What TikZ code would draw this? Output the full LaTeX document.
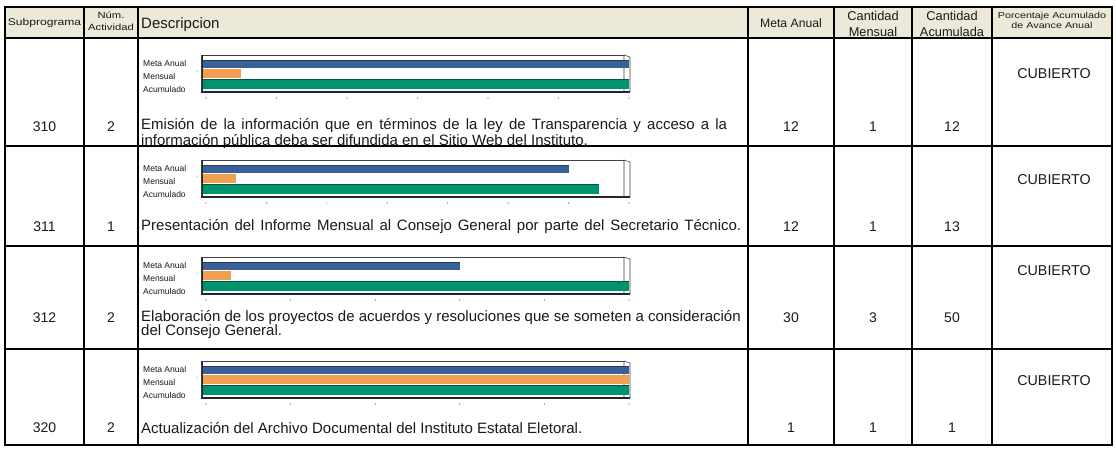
\documentclass[tikz,border=0pt]{standalone}
\usepackage{fontspec}
\setmainfont{Liberation Sans}
\newfontfamily\hdrwide[FakeStretch=1.25]{Liberation Sans}
\definecolor{hdr}{HTML}{ECE9D8}
\definecolor{barblue}{HTML}{3A6098}
\definecolor{barorange}{HTML}{F0A04E}
\definecolor{bargreen}{HTML}{00936F}
\definecolor{txt}{HTML}{1A1A1A}
\tikzset{
  grid/.style={line width=1.6pt, black},
  hdrtext/.style={inner sep=0pt, align=center, text=txt},
  desc/.style={anchor=west, align=left, inner sep=0pt, text=txt, font=\fontsize{15}{14}\selectfont},
  num/.style={inner sep=0pt, text=txt, font=\fontsize{14}{14}\selectfont},
  cub/.style={inner sep=0pt, text=txt, font=\fontsize{14.3}{14}\selectfont},
  lab/.style={anchor=west, inner sep=0pt, text=txt, font=\fontsize{8.5}{8.5}\selectfont},
  boxline/.style={line width=0.6pt, black!75},
}
% #1 top y, #2 blue end x, #3 orange end x, #4 green end x, #5 last tick index, #6 tick step, #7 name suffix
\newcommand{\minichart}[7]{%
  \fill[white] (201,#1) rectangle (624,#1+37);
  \draw[boxline] (201,#1) rectangle (624,#1+37);
  \draw[boxline, fill=white] (624,#1) -- (630,#1+2) -- (630,#1+37) -- (624,#1+37) -- cycle;
  \fill[barblue] (203,#1+5) rectangle (#2,#1+13);
  \draw[line width=0.5pt, barblue!60!black] (203,#1+5) -- (#2,#1+5);
  \fill[barorange] (203,#1+14) rectangle (#3,#1+23);
  \fill[bargreen] (203,#1+24) rectangle (#4,#1+34);
  \draw[line width=0.5pt, bargreen!60!black] (203,#1+24) -- (#4,#1+24);
  \draw[line width=1.8pt, black!85] (201,#1+37) -- (630,#1+37);
  \draw[line width=0.8pt, black!85] (202,#1) -- (202,#1+37);
  \foreach \k in {0,...,#5} \fill[black!70] ({206+\k*#6},#1+43) circle (0.6);
  \fill[black!70] (197,#1+16) circle (0.5);
  \node[lab] (ma#7) at (143,#1+8) {Meta Anual};
  \node[lab] (me#7) at (143,#1+21) {Mensual};
  \node[lab] (ac#7) at (143,#1+34) {Acumulado};
}
\begin{document}
\begin{tikzpicture}[x=1pt,y=-1pt]
\useasboundingbox (0,0) rectangle (1116,448);
\fill[white] (0,0) rectangle (1116,448);
% header
\fill[hdr] (5,7) rectangle (1112,38);
\node[hdrtext, font=\hdrwide\fontsize{9.7}{9}\selectfont] (hsub) at (44.5,22.5) {Subprograma};
\node[hdrtext, font=\hdrwide\fontsize{9}{12}\selectfont] (hnum) at (111,21) {Núm.\\Actividad};
\node[hdrtext, anchor=west, font=\fontsize{15}{15}\selectfont] (hdes) at (141,24.5) {Descripcion};
\node[hdrtext, font=\fontsize{12.2}{12}\selectfont] (hmeta) at (791,23) {Meta Anual};
\node[hdrtext, font=\fontsize{12.8}{16}\selectfont] (hmen) at (873,23.5) {Cantidad\\Mensual};
\node[hdrtext, font=\fontsize{12.8}{16}\selectfont] (hacu) at (952,23.5) {Cantidad\\Acumulada};
\node[hdrtext, font=\hdrwide\fontsize{8.6}{10}\selectfont] (hpor) at (1052,20) {Porcentaje Acumulado\\de Avance Anual};
% charts
\minichart{55}{629}{241}{629}{6}{70.5}{1}
\minichart{160}{568.6}{236}{599}{7}{60.43}{2}
\minichart{257}{460}{231}{629}{5}{84.6}{3}
\minichart{361}{629}{629}{629}{5}{84.6}{4}
% row 1
\node[num] (s1) at (44.5,127) {310};
\node[num] (a1) at (111,127) {2};
\node[desc] (d1) at (141,133.5) {\makebox[586pt][s]{Emisión de la información que en términos de la ley de Transparencia y acceso a la}\\información pública deba ser difundida en el Sitio Web del Instituto.};
\node[num] (m1) at (791,127) {12};
\node[num] (c1) at (873,127) {1};
\node[num] (q1) at (952,127) {12};
\node[cub] (p1) at (1054,74) {CUBIERTO};
% row 2
\node[num] (s2) at (44.5,227) {311};
\node[num] (a2) at (111,227) {1};
\node[desc] (d2) at (141,227) {\makebox[600pt][s]{Presentación del Informe Mensual al Consejo General por parte del Secretario Técnico.}};
\node[num] (m2) at (791,227) {12};
\node[num] (c2) at (873,227) {1};
\node[num] (q2) at (952,227) {13};
\node[cub] (p2) at (1054,180) {CUBIERTO};
% row 3
\node[num] (s3) at (44.5,318) {312};
\node[num] (a3) at (111,318) {2};
\node[desc] (d3) at (141,325) {Elaboración de los proyectos de acuerdos y resoluciones que se someten a consideración\\del Consejo General.};
\node[num] (m3) at (791,318) {30};
\node[num] (c3) at (873,318) {3};
\node[num] (q3) at (952,318) {50};
\node[cub] (p3) at (1054,271) {CUBIERTO};
% row 4
\node[num] (s4) at (44.5,428) {320};
\node[num] (a4) at (111,428) {2};
\node[desc] (d4) at (141,428) {Actualización del Archivo Documental del Instituto Estatal Eletoral.};
\node[num] (m4) at (791,428) {1};
\node[num] (c4) at (873,428) {1};
\node[num] (q4) at (952,428) {1};
\node[cub] (p4) at (1054,381) {CUBIERTO};
% grid
\draw[grid] (5,7) rectangle (1112,445);
\draw[line width=2.6pt] (5,38) -- (1112,38);
\foreach \y in {146,246,349} \draw[grid] (5,\y) -- (1112,\y);
\foreach \x in {84,138,748,834,912,992} \draw[grid] (\x,7) -- (\x,445);
\end{tikzpicture}
\end{document}
